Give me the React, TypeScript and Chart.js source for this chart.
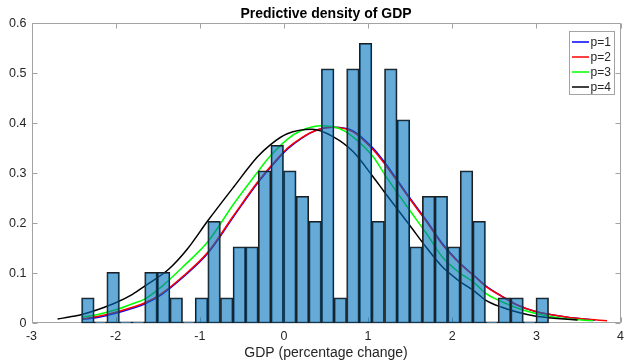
import React, { useEffect, useRef } from "react";
import { Chart, registerables } from "chart.js";

Chart.register(...registerables);

// Histogram bins (centres, width 0.15) and densities
const binCenters = [
  -2.33, -2.18, -2.03, -1.88, -1.73, -1.58, -1.43, -1.28, -1.13, -0.98,
  -0.83, -0.68, -0.53, -0.38, -0.23, -0.08, 0.07, 0.22, 0.37, 0.52,
  0.67, 0.82, 0.97, 1.12, 1.27, 1.42, 1.57, 1.72, 1.87, 2.02,
  2.17, 2.32, 2.47, 2.62, 2.77, 2.92, 3.07,
];
const binDensity = [
  0.051, 0, 0.102, 0, 0, 0.102, 0.102, 0.051, 0, 0.051,
  0.204, 0.051, 0.153, 0.153, 0.305, 0.356, 0.305, 0.254, 0.204, 0.509,
  0.051, 0.509, 0.56, 0.204, 0.509, 0.407, 0.153, 0.254, 0.254, 0.153,
  0.305, 0.204, 0, 0.051, 0.051, 0, 0.051,
];

// p=1 (blue)
const p1X = [-2.39, -2.2, -2.0, -1.8, -1.65, -1.45, -1.2, -0.9, -0.6, -0.31, -0.1, 0.04, 0.2, 0.4, 0.59, 0.82, 1.06, 1.2, 1.49, 1.7, 1.88, 2.08, 2.27, 2.39, 2.59, 2.78, 2.98, 3.18, 3.37, 3.57, 3.7];
const p1Y = [0.008, 0.012, 0.02, 0.03, 0.039, 0.058, 0.092, 0.141, 0.213, 0.281, 0.323, 0.348, 0.369, 0.387, 0.392, 0.385, 0.35, 0.321, 0.252, 0.204, 0.16, 0.122, 0.094, 0.076, 0.054, 0.036, 0.024, 0.017, 0.012, 0.0085, 0.0068];

// p=2 (red)
const p2X = [-2.39, -2.2, -2.0, -1.8, -1.65, -1.45, -1.2, -0.9, -0.6, -0.31, -0.1, 0.04, 0.2, 0.4, 0.57, 0.82, 1.06, 1.2, 1.49, 1.7, 1.88, 2.08, 2.27, 2.39, 2.59, 2.78, 2.98, 3.18, 3.37, 3.57, 3.84];
const p2Y = [0.009, 0.014, 0.022, 0.032, 0.041, 0.06, 0.094, 0.143, 0.215, 0.283, 0.325, 0.35, 0.37, 0.387, 0.392, 0.383, 0.347, 0.318, 0.25, 0.202, 0.158, 0.121, 0.093, 0.075, 0.054, 0.036, 0.024, 0.017, 0.012, 0.0085, 0.005];

// p=3 (green)
const p3X = [-2.4, -2.2, -2.0, -1.8, -1.65, -1.45, -1.2, -0.9, -0.6, -0.31, -0.196, 0.04, 0.2, 0.45, 0.65, 0.82, 1.06, 1.2, 1.49, 1.7, 1.88, 2.08, 2.27, 2.39, 2.59, 2.78, 2.98, 3.18, 3.37, 3.67];
const p3Y = [0.012, 0.018, 0.027, 0.039, 0.049, 0.074, 0.113, 0.164, 0.238, 0.303, 0.328, 0.368, 0.385, 0.395, 0.39, 0.373, 0.333, 0.297, 0.227, 0.178, 0.133, 0.102, 0.08, 0.061, 0.043, 0.03, 0.02, 0.013, 0.0086, 0.0053];

// p=4 (black)
const p4X = [-2.69, -2.5, -2.39, -2.2, -2.0, -1.8, -1.65, -1.37, -1.15, -0.905, -0.6, -0.314, -0.155, 0.039, 0.333, 0.588, 0.824, 1.059, 1.196, 1.49, 1.7, 1.882, 2.08, 2.274, 2.39, 2.59, 2.78, 2.98, 3.18, 3.37, 3.49];
const p4Y = [0.0086, 0.014, 0.018, 0.028, 0.041, 0.058, 0.075, 0.108, 0.148, 0.205, 0.272, 0.333, 0.358, 0.379, 0.388, 0.373, 0.343, 0.293, 0.262, 0.197, 0.15, 0.113, 0.085, 0.063, 0.047, 0.032, 0.022, 0.0146, 0.0106, 0.008, 0.0066];

const seriesLabels = ["p=1", "p=2", "p=3", "p=4"];
const seriesColors = ["#0000ff", "#ff0000", "#00ff00", "#000000"];

const xTicks = { min: -3, max: 4, step: 1 };
const yTicks = { min: 0, max: 0.6, step: 0.1 };

const FONT = "'Liberation Sans', Arial, Helvetica, sans-serif";
const FRAME = "#a3a3a3";
const TEXT = "#262626";

const framePlugin = {
  id: "frame",
  beforeDatasetsDraw(chart: any) {
    const { ctx, chartArea, scales } = chart;
    const l = Math.round(chartArea.left) + 0.5;
    const r = Math.round(chartArea.right) - 0.5;
    const t = Math.round(chartArea.top) + 0.5;
    const b = Math.round(chartArea.bottom) - 0.5;
    ctx.save();
    ctx.strokeStyle = FRAME;
    ctx.lineWidth = 1;
    ctx.beginPath();
    ctx.rect(l, t, r - l, b - t);
    const tl = 5;
    scales.x.ticks.forEach((tk: any) => {
      const px = Math.round(scales.x.getPixelForValue(tk.value)) + 0.5;
      ctx.moveTo(px, b);
      ctx.lineTo(px, b - tl);
      ctx.moveTo(px, t);
      ctx.lineTo(px, t + tl);
    });
    scales.y.ticks.forEach((tk: any) => {
      const py = Math.round(scales.y.getPixelForValue(tk.value)) + 0.5;
      ctx.moveTo(l, py);
      ctx.lineTo(l + tl, py);
      ctx.moveTo(r, py);
      ctx.lineTo(r - tl, py);
    });
    ctx.stroke();
    ctx.restore();
  },
};

const legendPlugin = {
  id: "boxLegend",
  afterDraw(chart: any) {
    const { ctx, chartArea } = chart;
    const w = 45;
    const h = 63;
    const left = Math.round(chartArea.right - 52) + 0.5;
    const top = Math.round(chartArea.top + 8) + 0.5;
    ctx.save();
    ctx.fillStyle = "#ffffff";
    ctx.fillRect(left, top, w, h);
    ctx.strokeStyle = FRAME;
    ctx.lineWidth = 1;
    ctx.strokeRect(left, top, w, h);
    ctx.font = `12px ${FONT}`;
    ctx.textBaseline = "middle";
    ctx.textAlign = "left";
    seriesLabels.forEach((lab, i) => {
      const y = top + 10.5 + 15 * i;
      ctx.strokeStyle = seriesColors[i];
      ctx.lineWidth = 1.5;
      ctx.beginPath();
      ctx.moveTo(left + 2.5, y);
      ctx.lineTo(left + 19.5, y);
      ctx.stroke();
      ctx.fillStyle = TEXT;
      ctx.fillText(lab, left + 21, y + 0.5);
    });
    ctx.restore();
  },
};

function toPoints(xs: number[], ys: number[]) {
  return xs.map((x, i) => ({ x, y: ys[i] }));
}

export default function App() {
  const ref = useRef<HTMLCanvasElement | null>(null);

  useEffect(() => {
    if (!ref.current) return;
    const lineSets = [
      [p1X, p1Y],
      [p2X, p2Y],
      [p3X, p3Y],
      [p4X, p4Y],
    ].map(([xs, ys], i) => ({
      type: "line" as const,
      label: seriesLabels[i],
      data: toPoints(xs, ys),
      borderColor: seriesColors[i],
      backgroundColor: seriesColors[i],
      borderWidth: 1.5,
      pointRadius: 0,
      cubicInterpolationMode: "monotone" as const,
      fill: false,
      order: 4 - i,
    }));

    const chart = new Chart(ref.current, {
      type: "bar",
      data: {
        datasets: [
          ...lineSets,
          {
            type: "bar" as const,
            label: "hist",
            data: toPoints(binCenters, binDensity),
            backgroundColor: "rgba(0,114,189,0.6)",
            borderColor: "#1e1e1e",
            borderWidth: 1.2,
            borderSkipped: false,
            barPercentage: 1,
            categoryPercentage: 1,
            minBarLength: 1.5,
            order: 0,
          },
        ] as any,
      },
      plugins: [framePlugin, legendPlugin],
      options: {
        animation: false,
        responsive: false,
        devicePixelRatio: 1,
        layout: { padding: { left: 0, right: 3, top: 0, bottom: 0 } },
        plugins: {
          legend: { display: false },
          tooltip: { enabled: false },
          title: {
            display: true,
            text: "Predictive density of GDP",
            fullSize: false,
            color: "#000000",
            font: { family: FONT, size: 14, weight: "bold", lineHeight: 1.2 },
            padding: { top: 6, bottom: 0.5 },
          },
        },
        scales: {
          x: {
            type: "linear",
            min: xTicks.min,
            max: xTicks.max,
            offset: false,
            grid: { display: false, drawTicks: false },
            border: { display: false },
            ticks: {
              stepSize: xTicks.step,
              color: TEXT,
              padding: 6,
              maxRotation: 0,
              font: { family: FONT, size: 12.5, lineHeight: 1.2 },
            },
            title: {
              display: true,
              text: "GDP (percentage change)",
              color: TEXT,
              font: { family: FONT, size: 14, lineHeight: 1 },
              padding: { top: 0, bottom: 0 },
            },
            afterFit(scale: any) {
              scale.height = 36.7;
            },
          },
          y: {
            type: "linear",
            min: yTicks.min,
            max: yTicks.max,
            grid: { display: false, drawTicks: false },
            border: { display: false },
            ticks: {
              stepSize: yTicks.step,
              color: TEXT,
              padding: 5,
              font: { family: FONT, size: 12.5, lineHeight: 1.2 },
            },
            afterFit(scale: any) {
              scale.width = 31.5;
            },
          },
        },
      } as any,
    });
    return () => chart.destroy();
  }, []);

  return (
    <div style={{ position: "fixed", left: 0, top: 0, width: 630, height: 360, background: "#fff" }}>
      <canvas ref={ref} width={630} height={360} style={{ display: "block" }} />
    </div>
  );
}
